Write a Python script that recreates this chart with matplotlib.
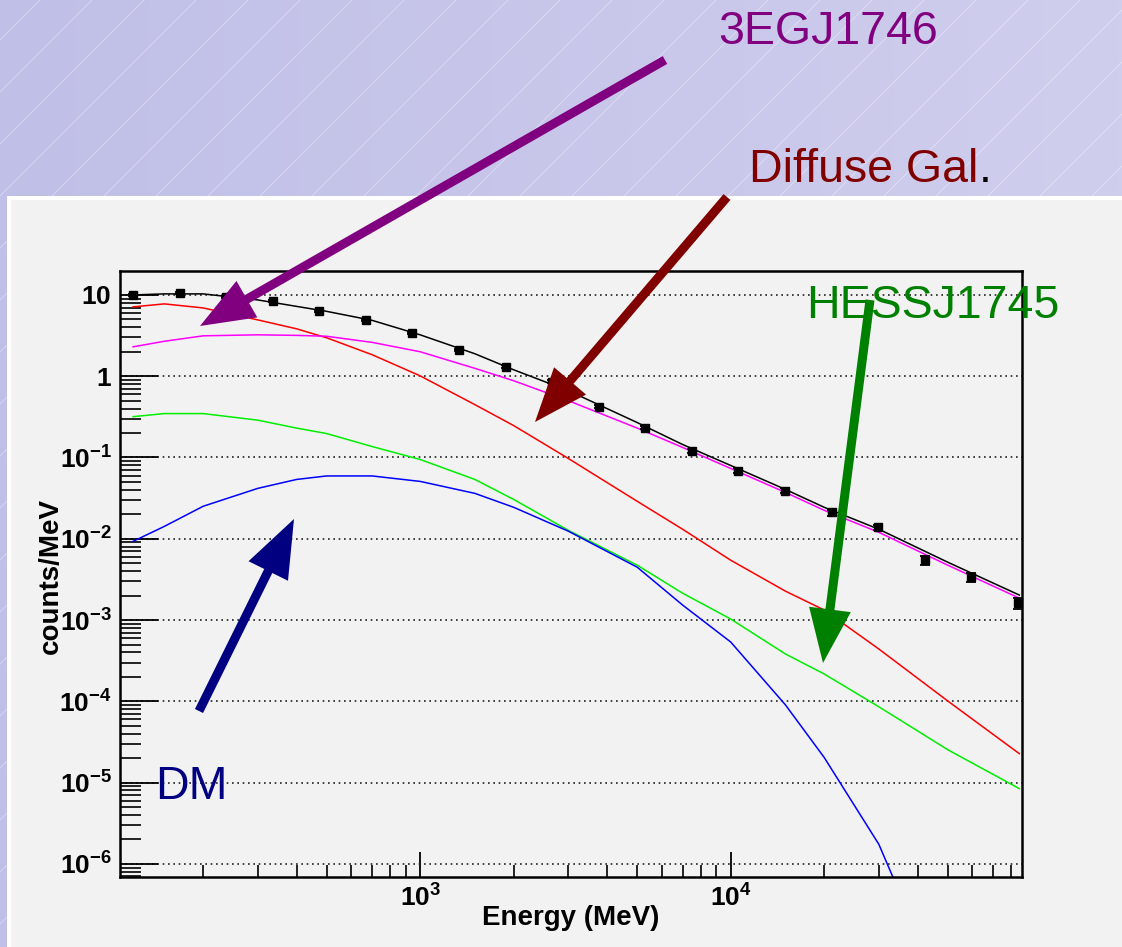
# gamma-ray spectrum fit with component curves, slide-style background
import numpy as np
import matplotlib
matplotlib.use("Agg")
import matplotlib.pyplot as plt
from matplotlib.patches import Rectangle, FancyArrow
from matplotlib.transforms import IdentityTransform
from matplotlib.ticker import LogLocator, NullFormatter, FuncFormatter, FixedLocator

plt.rcParams['font.family'] = ['Liberation Sans', 'DejaVu Sans']
plt.rcParams['mathtext.fontset'] = 'custom'
plt.rcParams['mathtext.rm'] = 'Liberation Sans'
plt.rcParams['mathtext.bf'] = 'Liberation Sans:bold'

W, H = 1122, 947

# measured points (counts/MeV)
data_energy = [119, 168, 237, 335, 473, 668, 944, 1334, 1884, 2661, 3758, 5309,
               7499, 10590, 14960, 21130, 29850, 42170, 59570, 84140]
data_counts = [10.0, 10.6, 9.45, 8.44, 6.37, 4.93, 3.42, 2.11, 1.31, 0.86, 0.42,
               0.233, 0.119, 0.069, 0.039, 0.0211, 0.0138, 0.00545, 0.00337, 0.00162]
data_err = [0.2, 0.2, 0.2, 0.18, 0.14, 0.12, 0.09, 0.06, 0.045, 0.03, 0.018, 0.011,
            0.007, 0.0045, 0.0028, 0.0018, 0.0011, 0.0007, 0.00045, 0.00025]

# fit components read at common energies
curve_energy = [119, 150, 200, 300, 400, 500, 700, 1000, 1500, 2000, 3000, 5000,
                7000, 10000, 15000, 20000, 30000, 50000, 85000]
total_fit = [10.0, 10.3, 10.3, 8.68, 7.23, 6.28, 4.87, 3.23, 1.89, 1.20, 0.664, 0.269,
             0.1445, 0.0798, 0.0405, 0.0244, 0.0131, 0.00515, 0.00203]
diffuse_gal = [7.13, 7.76, 6.92, 4.93, 3.83, 2.97, 1.84, 1.01, 0.447, 0.247, 0.0973,
               0.0289, 0.0131, 0.00545, 0.00227, 0.00133, 0.00044, 1.01e-4, 2.27e-5]
src_3egj1746 = [2.30, 2.69, 3.14, 3.23, 3.18, 3.10, 2.61, 2.0, 1.25, 0.88, 0.50, 0.230,
                0.133, 0.0733, 0.0372, 0.0224, 0.0120, 0.00473, 0.00186]
src_hessj1745 = [0.318, 0.347, 0.347, 0.288, 0.230, 0.197, 0.1365, 0.0945, 0.0537, 0.0305,
                 0.0127, 0.00473, 0.00214, 0.00103, 0.000383, 0.000217, 8.57e-5, 2.54e-5, 8.43e-6]
dm_energy = [119, 150, 200, 300, 400, 500, 700, 1000, 1500, 2000, 3000, 5000,
             7000, 10000, 15000, 20000, 30000, 35000]
dm_curve = [0.0093, 0.0142, 0.0251, 0.0417, 0.0537, 0.0593, 0.0593, 0.0508, 0.0362, 0.0244,
            0.0124, 0.00447, 0.00153, 0.000537, 9.06e-5, 2.04e-5, 1.74e-6, 4.4e-7]


def px(x, y):
    # image pixel (top-left origin) -> display coords
    return x, H - y


fig = plt.figure(figsize=(W / 100, H / 100), dpi=100)

# slide background
bg = fig.add_axes([0, 0, 1, 1], zorder=-2)
grad = np.linspace(0, 1, 256)[None, :, None]
c0 = np.array([192, 191, 231]) / 255
c1 = np.array([208, 206, 237]) / 255
bg.imshow(c0 + (c1 - c0) * grad, extent=(0, W, H, 0), aspect='auto')
for c in range(-1000, 2200, 52):
    bg.plot([c - H, c], [H, 0], color='white', lw=0.7, alpha=0.35)
bg.set_xlim(0, W)
bg.set_ylim(H, 0)
bg.axis('off')

# canvas panel
fig.add_artist(Rectangle(px(7, 947), W, 947 - 196, transform=IdentityTransform(),
                         facecolor='white', edgecolor='none', zorder=-1))
fig.add_artist(Rectangle(px(11, 947), W, 947 - 200, transform=IdentityTransform(),
                         facecolor='#f2f2f2', edgecolor='none', zorder=-1))

ax = fig.add_axes([120 / W, 1 - 877 / H, (1022 - 120) / W, (877 - 271) / H])
ax.set_facecolor('#f2f2f2')
ax.set_xscale('log')
ax.set_yscale('log')
ax.set_xlim(108, 86700)
ax.set_ylim(6.9e-7, 19.7)

ax.plot(curve_energy, diffuse_gal, color='#ff0000', lw=1.1)
ax.plot(curve_energy, src_3egj1746, color='#ff00ff', lw=1.1)
ax.plot(curve_energy, src_hessj1745, color='#00ee00', lw=1.1)
ax.plot(dm_energy, dm_curve, color='#0000ff', lw=1.1)
ax.plot(curve_energy, total_fit, color='black', lw=1.1)
ax.errorbar(data_energy, data_counts, yerr=data_err, fmt='s', color='black',
            ms=6, capsize=3.5, elinewidth=1.3, capthick=1.3)

ax.yaxis.grid(True, which='major', color='#222222', lw=1.2, linestyle=(0, (1, 2.2)))
ax.set_axisbelow(True)


def ylab(v, pos):
    e = int(round(np.log10(v)))
    if e == 1:
        return r'$\mathbf{10}$'
    if e == 0:
        return r'$\mathbf{1}$'
    return r'$\mathbf{10^{%d}}$' % e


ax.yaxis.set_major_locator(LogLocator(base=10, numticks=20))
ax.yaxis.set_minor_locator(LogLocator(base=10, subs=np.arange(2, 10) * 1.0, numticks=100))
ax.yaxis.set_major_formatter(FuncFormatter(ylab))
ax.yaxis.set_minor_formatter(NullFormatter())
ax.xaxis.set_major_locator(FixedLocator([1e3, 1e4]))
ax.xaxis.set_minor_locator(LogLocator(base=10, subs=np.arange(2, 10) * 1.0, numticks=100))
ax.xaxis.set_major_formatter(FuncFormatter(ylab))
ax.xaxis.set_minor_formatter(NullFormatter())
ax.xaxis.get_offset_text().set_visible(False)
ax.yaxis.get_offset_text().set_visible(False)

ax.tick_params(axis='y', which='major', direction='in', length=27, width=1.3,
               labelsize=19, pad=6)
ax.tick_params(axis='y', which='minor', direction='in', length=15, width=1.2)
ax.tick_params(axis='x', which='major', direction='in', length=18, width=1.3,
               labelsize=19, pad=5)
ax.tick_params(axis='x', which='minor', direction='in', length=9, width=1.2)
for s in ax.spines.values():
    s.set_linewidth(1.8)

fig.text(*px(51, 576), 'counts/MeV', transform=IdentityTransform(), rotation=90,
         ha='center', va='center', fontsize=20, fontweight='bold')
fig.text(*px(571, 918), 'Energy (MeV)', transform=IdentityTransform(),
         ha='center', va='center', fontsize=20, fontweight='bold')

# annotations
fig.text(*px(718, 44), '3EGJ1746', transform=IdentityTransform(), color='#800080',
         fontsize=33.5, ha='left', va='baseline')
fig.text(*px(749, 182), 'Diffuse Gal', transform=IdentityTransform(), color='#800000',
         fontsize=33.5, ha='left', va='baseline')
fig.text(*px(979, 182), '.', transform=IdentityTransform(), color='black',
         fontsize=33.5, ha='left', va='baseline')
fig.text(*px(806, 318), 'HESSJ1745', transform=IdentityTransform(), color='#008000',
         fontsize=33.5, ha='left', va='baseline')
fig.text(*px(155, 799), 'DM', transform=IdentityTransform(), color='#000080',
         fontsize=33.5, ha='left', va='baseline')


def arrow(tail, tip, color, hw=42, hl=54, w=9):
    x0, y0 = px(*tail)
    x1, y1 = px(*tip)
    fig.add_artist(FancyArrow(x0, y0, x1 - x0, y1 - y0, width=w, head_width=hw,
                              head_length=hl, length_includes_head=True,
                              transform=IdentityTransform(), color=color, lw=0, zorder=5))


arrow((665, 60), (200, 326), '#800080')
arrow((727, 197), (535, 422), '#800000')
arrow((870, 300), (823, 663), '#008000')
arrow((199, 711), (294, 519), '#000080', hw=44, hl=58)

fig.savefig('out.png', dpi=100)
